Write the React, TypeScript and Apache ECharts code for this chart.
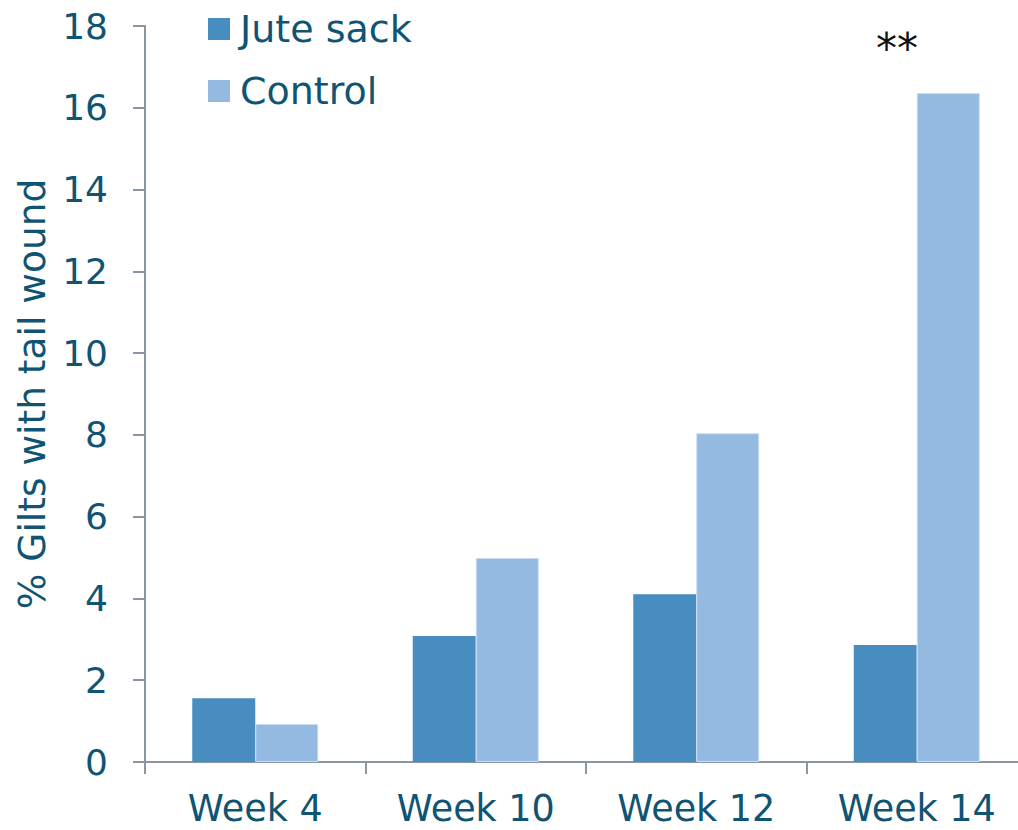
import React, { useEffect, useRef } from "react";
import * as echarts from "echarts";

const categories = ["Week 4", "Week 10", "Week 12", "Week 14"];
const juteSack = [1.56, 3.08, 4.1, 2.86];
const control = [0.93, 4.99, 8.04, 16.36];
const seriesNames = ["Jute sack", "Control"];
const yTicks = { min: 0, max: 18, interval: 2 };
const yName = "% Gilts with tail wound";
const annotation = "**";

const TEXT = "#0F5472";
const AXIS = "#8A96A5";
const FONT = "DejaVu Sans, Verdana, sans-serif";

export default function App() {
  const ref = useRef<HTMLDivElement>(null);
  useEffect(() => {
    document.body.style.margin = "0";
    const chart = echarts.init(ref.current!, null, { renderer: "svg" });
    chart.setOption({
      animation: false,
      backgroundColor: "#ffffff",
      textStyle: { fontFamily: FONT },
      legend: {
        orient: "vertical",
        left: 208,
        top: 10,
        padding: 0,
        icon: "rect",
        itemWidth: 22,
        itemHeight: 22,
        itemGap: 24,
        itemStyle: { borderWidth: 0 },
        textStyle: { color: TEXT, fontSize: 38, fontFamily: FONT, padding: [0, 0, 0, 5] },
        data: seriesNames,
      },
      grid: { left: 145, top: 26, right: -9, bottom: 68, containLabel: false, outerBoundsMode: "none" },
      xAxis: {
        type: "category",
        data: categories,
        axisLine: { lineStyle: { color: AXIS, width: 2 } },
        axisTick: { show: true, length: 12, alignWithLabel: false, lineStyle: { color: AXIS, width: 2 } },
        axisLabel: { color: TEXT, fontSize: 36.5, fontFamily: FONT, margin: 28 },
      },
      yAxis: {
        type: "value",
        min: yTicks.min,
        max: yTicks.max,
        interval: yTicks.interval,
        name: yName,
        nameLocation: "middle",
        nameGap: 93,
        nameTextStyle: { color: TEXT, fontSize: 37.5, fontFamily: FONT },
        axisLine: { show: true, lineStyle: { color: AXIS, width: 2 } },
        axisTick: { show: true, length: 12, lineStyle: { color: AXIS, width: 2 } },
        splitLine: { show: false },
        axisLabel: { color: TEXT, fontSize: 36, fontFamily: FONT, margin: 37 },
      },
      series: [
        {
          name: seriesNames[0],
          type: "bar",
          data: juteSack,
          barWidth: 63,
          barGap: "0%",
          itemStyle: { color: "#478DC0" },
        },
        {
          name: seriesNames[1],
          type: "bar",
          data: control,
          barWidth: 63,
          barGap: "0%",
          itemStyle: { color: "#95BAE1", borderColor: "#C9DDF2", borderWidth: 1 },
        },
      ],
      graphic: [
        {
          type: "text",
          left: 876,
          top: 27,
          style: { text: annotation, fill: "#111111", fontSize: 42, fontFamily: FONT },
        },
      ],
    });
    return () => chart.dispose();
  }, []);
  return <div ref={ref} style={{ width: 1018, height: 830 }} />;
}
